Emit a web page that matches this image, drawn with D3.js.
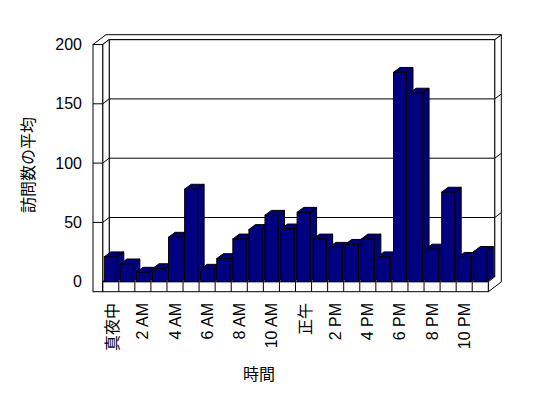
<!DOCTYPE html>
<html>
<head>
<meta charset="utf-8">
<title>訪問数の平均</title>
<script src="https://d3js.org/d3.v7.min.js"></script>
<style>
  body { margin: 0; background: #fff; }
  text { font-family: "Liberation Sans", Arial, "Noto Sans CJK JP", sans-serif; font-size: 16px; fill: #000; }
  text.ja { font-family: "Noto Sans CJK JP", sans-serif; }
  .wall { fill: #fff; stroke: #000; stroke-width: 1; }
  .grid { stroke: #000; stroke-width: 1; }
  .bar { fill: #000080; stroke: #000; stroke-width: 1; }
</style>
</head>
<body>
<div id="chart"></div>
<script>
// 時間帯 (カテゴリ)
var hours = ["真夜中", "1 AM", "2 AM", "3 AM", "4 AM", "5 AM", "6 AM", "7 AM",
             "8 AM", "9 AM", "10 AM", "11 AM", "正午", "1 PM", "2 PM", "3 PM",
             "4 PM", "5 PM", "6 PM", "7 PM", "8 PM", "9 PM", "10 PM", "11 PM"];
// 訪問数の平均
var visits = [21, 15, 8, 11, 37.5, 78, 10.5, 19.5, 36, 44, 56, 44.5,
              58.5, 36, 29, 31.5, 36, 21, 176.5, 159, 27.5, 75.5, 20.5, 25.5];
var yTicks = [0, 50, 100, 150, 200];

var width = 548, height = 398;
var dx = 6.5, dy = -4.9;      // 奥行き方向のずれ
var xL = 93;                   // 左壁の外側
var yBot = 291.7;              // 床の下端

var svg = d3.select("#chart").append("svg")
  .attr("width", width)
  .attr("height", height);

var x = d3.scaleBand().domain(hours).range([102.7, 488.3]);
var y = d3.scaleLinear().domain([0, 200]).range([281.7, 44.5]);

var x0 = x.range()[0], x1 = x.range()[1];
var Y0 = y(0), Ytop = y(200);

function pts(a) { return a.map(function(p) { return p.join(","); }).join(" "); }
function isJa(s) { return /[^\x00-\x7f]/.test(s); }

// 奥の壁
svg.append("rect").attr("class", "wall")
  .attr("x", x0 + dx).attr("y", Ytop + dy)
  .attr("width", x1 - x0).attr("height", Y0 - Ytop);

svg.append("g").selectAll("line")
  .data(yTicks.slice(1, -1))
  .enter().append("line").attr("class", "grid")
  .attr("x1", x0 + dx).attr("x2", x1 + dx)
  .attr("y1", function(d) { return y(d) + dy; })
  .attr("y2", function(d) { return y(d) + dy; });

// 右端の面 (床 + 奥の壁)
svg.append("polygon").attr("class", "wall")
  .attr("points", pts([[x1, Y0], [x1 + dx, Y0 + dy], [x1 + dx, Ytop + dy],
                       [x1 + 2 * dx, Ytop + 2 * dy], [x1 + 2 * dx, yBot + 2 * dy], [x1, yBot]]));

svg.append("g").selectAll("line")
  .data(yTicks.slice(1, -1))
  .enter().append("line").attr("class", "grid")
  .attr("x1", x1 + dx).attr("x2", x1 + 2 * dx)
  .attr("y1", function(d) { return y(d) + dy; })
  .attr("y2", function(d) { return y(d) + 2 * dy; });

// 上面 (L字)
svg.append("polygon").attr("class", "wall")
  .attr("points", pts([[xL, Ytop], [x0, Ytop], [x0 + dx, Ytop + dy], [x1 + dx, Ytop + dy],
                       [x1 + 2 * dx, Ytop + 2 * dy], [xL + 2 * dx, Ytop + 2 * dy]]));

// 左壁の内側
svg.append("polygon").attr("class", "wall")
  .attr("points", pts([[x0, Ytop], [x0 + dx, Ytop + dy], [x0 + dx, Y0 + dy], [x0, Y0]]));

svg.append("g").selectAll("line")
  .data(yTicks.slice(1, -1))
  .enter().append("line").attr("class", "grid")
  .attr("x1", x0).attr("x2", x0 + dx)
  .attr("y1", function(d) { return y(d); })
  .attr("y2", function(d) { return y(d) + dy; });

// 左壁の前面
svg.append("rect").attr("class", "wall")
  .attr("x", xL).attr("y", Ytop)
  .attr("width", x0 - xL).attr("height", yBot - Ytop);

svg.append("g").selectAll("line")
  .data(yTicks.slice(1, -1))
  .enter().append("line").attr("class", "grid")
  .attr("x1", xL).attr("x2", x0)
  .attr("y1", function(d) { return y(d); })
  .attr("y2", function(d) { return y(d); });

// 床の前面
svg.append("rect").attr("class", "wall")
  .attr("x", x0).attr("y", Y0)
  .attr("width", x1 - x0).attr("height", yBot - Y0);

svg.append("g").selectAll("line")
  .data(hours)
  .enter().append("line").attr("class", "grid")
  .attr("x1", function(d) { return x(d); })
  .attr("x2", function(d) { return x(d); })
  .attr("y1", Y0).attr("y2", yBot);

// 棒
var bw = 13, off = 1.6;
var bars = svg.append("g").selectAll("g")
  .data(hours.map(function(h, i) { return {h: h, v: visits[i]}; }))
  .enter().append("g");

bars.append("polygon").attr("class", "bar")
  .attr("points", function(d) {
    var a = x(d.h) + off + bw, t = y(d.v);
    return pts([[a, t], [a + dx, t + dy], [a + dx, Y0 + dy], [a, Y0]]);
  });

bars.append("polygon").attr("class", "bar")
  .attr("points", function(d) {
    var a = x(d.h) + off, t = y(d.v);
    return pts([[a, t], [a + dx, t + dy], [a + bw + dx, t + dy], [a + bw, t]]);
  });

bars.append("rect").attr("class", "bar")
  .attr("x", function(d) { return x(d.h) + off; })
  .attr("y", function(d) { return y(d.v); })
  .attr("width", bw)
  .attr("height", function(d) { return Y0 - y(d.v); });

// 目盛りラベル
svg.append("g").selectAll("text")
  .data(yTicks)
  .enter().append("text")
  .attr("x", 82)
  .attr("y", function(d) { return y(d); })
  .attr("text-anchor", "end")
  .attr("dominant-baseline", "central")
  .text(function(d) { return d; });

svg.append("g").selectAll("text")
  .data(hours.filter(function(h, i) { return i % 2 === 0; }))
  .enter().append("text")
  .attr("class", function(d) { return isJa(d) ? "ja" : null; })
  .attr("transform", function(d) {
    return "translate(" + (x(d) + x.bandwidth() / 2) + ",303) rotate(-90)";
  })
  .attr("text-anchor", "end")
  .attr("dominant-baseline", "central")
  .text(function(d) { return d; });

// 軸タイトル
svg.append("text").attr("class", "ja")
  .attr("transform", "translate(27,165) rotate(-90)")
  .attr("text-anchor", "middle")
  .attr("dominant-baseline", "central")
  .text("訪問数の平均");

svg.append("text").attr("class", "ja")
  .attr("x", 259).attr("y", 373)
  .attr("text-anchor", "middle")
  .attr("dominant-baseline", "central")
  .text("時間");
</script>
</body>
</html>
